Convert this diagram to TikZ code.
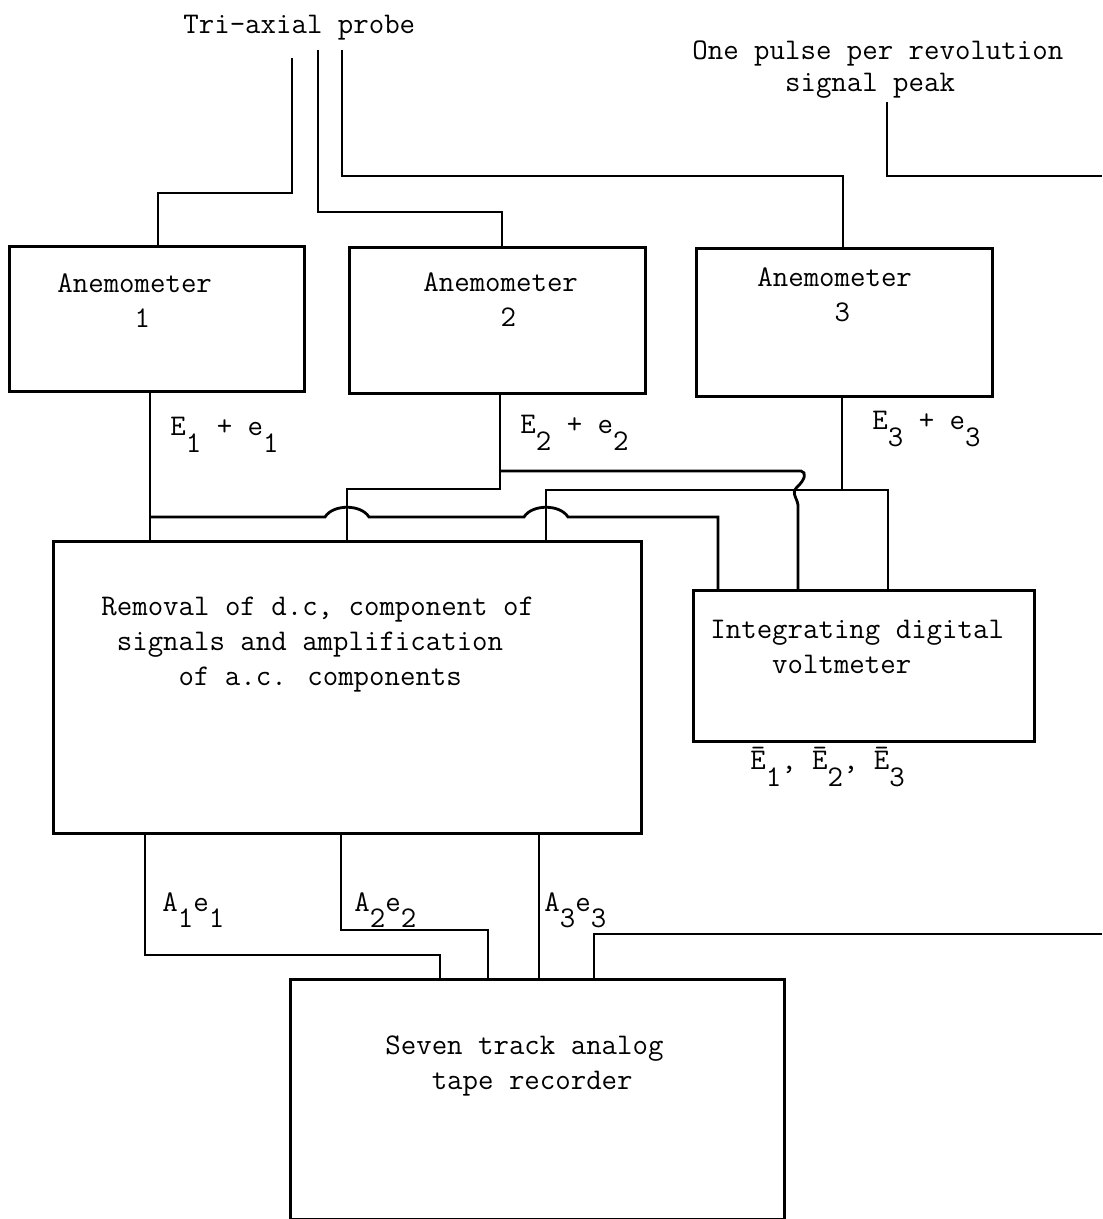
\documentclass[tikz,border=0pt]{standalone}
\usepackage{fontspec}
\usepackage{tikz}
\usetikzlibrary{positioning,calc}
\newcommand{\lowsub}[1]{\raisebox{-0.55em}{#1}}

\begin{document}
\begin{tikzpicture}[
    x=0.5pt, y=-0.5pt,
    unitStyle/.style={rectangle, draw=black, line width=1.4pt, inner sep=0pt, anchor=north west},
    textStyle/.style={font=\fontsize{15}{17.5}\selectfont\ttfamily, inner sep=0pt, anchor=north west, align=left},
    wireStyle/.style={draw=black, line width=1.4pt}
]
    \useasboundingbox (0,0) rectangle (1102,1219);

    \node[unitStyle, minimum width=147.5pt, minimum height=72.5pt] (anem1) at (8,245) {};
    \node[unitStyle, minimum width=148pt, minimum height=73pt] (anem2) at (348,246) {};
    \node[unitStyle, minimum width=148pt, minimum height=74pt] (anem3) at (695,247) {};
    \node[unitStyle, minimum width=294pt, minimum height=146pt] (rem) at (52,540) {};
    \node[unitStyle, minimum width=170.5pt, minimum height=75.5pt] (dvm) at (692,589) {};
    \node[unitStyle, minimum width=247pt, minimum height=120pt] (tape) at (289,978) {};

    \node[textStyle] (probe) at (183,15) {Tri-axial probe};
    \node[textStyle, font=\fontsize{15}{16}\selectfont\ttfamily] (pulse) at (692,40) {One pulse per revolution\\\hphantom{000000}signal peak};
    \node[textStyle] (anem1txt) at (57,273) {Anemometer\\\hphantom{00000}1};
    \node[textStyle] (anem2txt) at (423,272) {Anemometer\\\hphantom{00000}2};
    \node[textStyle] (anem3txt) at (757,267) {Anemometer\\\hphantom{00000}3};
    \node[textStyle] (remtxt) at (101,597) {Removal of d.c, component of\\\hphantom{0}signals and amplification\\\hphantom{00000}of a.c. components};
    \node[textStyle] (dvmtxt) at (710,620) {Integrating digital\\\hphantom{0000}voltmeter};
    \node[textStyle] (tapetxt) at (385,1035) {Seven track analog\\\hphantom{000}tape recorder};

    \node[textStyle] (sig1) at (170,417) {E\lowsub{1} + e\lowsub{1}};
    \node[textStyle] (sig2) at (520,415) {E\lowsub{2} + e\lowsub{2}};
    \node[textStyle] (sig3) at (872,411) {E\lowsub{3} + e\lowsub{3}};
    \node[textStyle] (mean) at (750,747) {\=E\lowsub{1}, \=E\lowsub{2}, \=E\lowsub{3}};
    \node[textStyle] (amp1) at (162,892) {A\lowsub{1}e\lowsub{1}};
    \node[textStyle] (amp2) at (354,892) {A\lowsub{2}e\lowsub{2}};
    \node[textStyle] (amp3) at (544,892) {A\lowsub{3}e\lowsub{3}};

    % probe leads and revolution pulse
    \coordinate (p1) at (292,58);
    \coordinate (p2) at (318,50);
    \coordinate (p3) at (342,50);
    \coordinate (rev) at (887,102);
    \coordinate (revEnd) at (1102,176);
    \draw[wireStyle] (p1) -- ++(0,135) -| (anem1.north -| 158,0);
    \draw[wireStyle] (p2) -- ++(0,162) -| (anem2.north -| 502,0);
    \draw[wireStyle] (p3) -- ++(0,126) -| (anem3.north -| 843,0);
    \draw[wireStyle] (rev) |- (revEnd);

    % anemometer outputs, with hops where wires cross
    \coordinate (j1) at (150,517);
    \coordinate (j2) at (500,471);
    \coordinate (j3) at (546,490);
    \draw[wireStyle] (anem1.south -| j1) -- (rem.north -| j1);
    \draw[wireStyle] (j1) -- (325,517) .. controls +(8,-13) and +(-8,-13) .. (369,517)
        -- (524,517) .. controls +(8,-13) and +(-8,-13) .. (568,517) -| (dvm.north -| 718,0);
    \draw[wireStyle] (anem2.south -| j2) |- (347,489) -- (rem.north -| 347,0);
    \draw[wireStyle] (j2) -- (801,471) .. controls (807,472) and (805,480) .. (797,487)
        .. controls (790,494) and (799,499) .. (798,508) -- (dvm.north -| 798,0);
    \draw[wireStyle] (anem3.south -| 842,0) -- (842,490);
    \draw[wireStyle] (rem.north -| j3) -- (j3) -| (dvm.north -| 888,0);

    % amplified a.c. signals to the recorder
    \coordinate (revIn) at (1102,934);
    \draw[wireStyle] (rem.south -| 145,0) -- (145,955) -| (tape.north -| 440,0);
    \draw[wireStyle] (rem.south -| 341,0) -- (341,930) -| (tape.north -| 488,0);
    \draw[wireStyle] (rem.south -| 539,0) -- (tape.north -| 539,0);
    \draw[wireStyle] (tape.north -| 594,0) |- (revIn);
\end{tikzpicture}
\end{document}
